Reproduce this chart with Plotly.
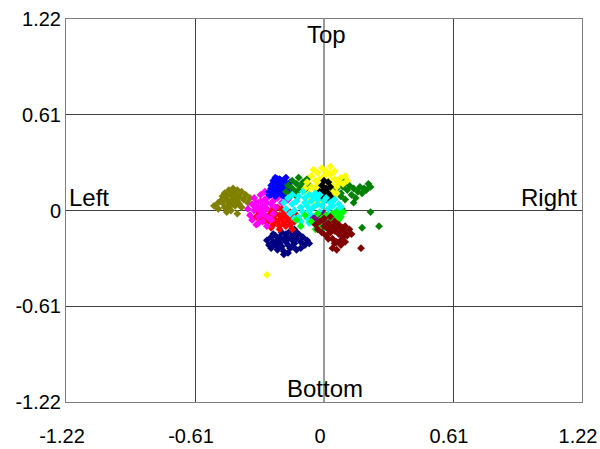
import plotly.graph_objects as go

tick_vals = [-1.22, -0.61, 0, 0.61, 1.22]
tick_text = ["-1.22", "-0.61", "0", "0.61", "1.22"]

olive_x = [-0.52,-0.50,-0.49,-0.48,-0.47,-0.47,-0.46,-0.46,-0.45,-0.45,-0.44,-0.44,-0.44,-0.43,-0.43,-0.42,-0.42,-0.41,-0.41,-0.40,-0.40,-0.39,-0.38,-0.37,-0.36,-0.35,-0.48,-0.45,-0.43,-0.41,-0.39,-0.46,-0.44,-0.42,-0.50]
olive_y = [0.03,0.01,0.06,0.09,0.02,0.11,-0.01,0.07,0.13,0.04,0.10,0.00,0.06,0.14,0.08,0.03,0.11,0.06,-0.02,0.09,0.04,0.12,0.07,0.10,0.05,0.08,0.05,0.02,0.04,0.13,0.02,0.09,0.12,0.08,0.05]

navy_x = [-0.27,-0.26,-0.25,-0.25,-0.24,-0.23,-0.23,-0.22,-0.22,-0.21,-0.21,-0.20,-0.20,-0.19,-0.19,-0.18,-0.18,-0.17,-0.17,-0.16,-0.16,-0.15,-0.15,-0.14,-0.14,-0.13,-0.13,-0.12,-0.11,-0.10,-0.09,-0.08,-0.07,-0.19,-0.17,-0.15,-0.21,-0.13,-0.24,-0.11]
navy_y = [-0.19,-0.22,-0.17,-0.24,-0.20,-0.16,-0.22,-0.19,-0.25,-0.17,-0.21,-0.14,-0.23,-0.18,-0.26,-0.20,-0.15,-0.22,-0.18,-0.13,-0.24,-0.19,-0.16,-0.21,-0.12,-0.18,-0.25,-0.15,-0.20,-0.17,-0.22,-0.19,-0.21,-0.28,-0.27,-0.23,-0.20,-0.14,-0.15,-0.24]

red_x = [-0.32,-0.31,-0.30,-0.29,-0.28,-0.28,-0.27,-0.26,-0.26,-0.25,-0.24,-0.24,-0.23,-0.23,-0.22,-0.22,-0.21,-0.21,-0.20,-0.20,-0.19,-0.19,-0.18,-0.17,-0.16,-0.16,-0.15,-0.14,-0.13,-0.12,-0.25,-0.21,-0.18,-0.27,-0.15]
red_y = [-0.04,-0.01,-0.06,-0.02,-0.05,0.01,-0.08,-0.03,-0.06,0.00,-0.04,-0.09,-0.02,-0.06,0.02,-0.07,-0.03,-0.10,-0.05,0.01,-0.02,-0.08,-0.04,-0.06,-0.01,-0.09,-0.04,-0.07,-0.03,-0.05,-0.11,-0.12,-0.10,-0.07,-0.12]

magenta_x = [-0.36,-0.35,-0.34,-0.34,-0.33,-0.33,-0.32,-0.32,-0.31,-0.31,-0.30,-0.30,-0.30,-0.29,-0.29,-0.28,-0.28,-0.28,-0.27,-0.27,-0.26,-0.26,-0.25,-0.25,-0.24,-0.24,-0.23,-0.23,-0.22,-0.21,-0.20,-0.19,-0.18,-0.17,-0.16,-0.31,-0.29,-0.27,-0.25,-0.33]
magenta_y = [0.01,-0.03,0.04,-0.06,0.08,0.00,-0.09,0.05,0.02,-0.04,0.10,-0.01,0.06,-0.07,0.03,0.12,-0.03,0.07,0.01,-0.10,0.09,-0.05,0.04,0.11,-0.02,0.06,0.13,0.02,0.08,0.11,0.05,0.10,0.12,0.07,0.09,-0.08,0.00,0.05,-0.06,0.03]

blue_x = [-0.26,-0.25,-0.25,-0.24,-0.24,-0.23,-0.23,-0.22,-0.22,-0.21,-0.21,-0.20,-0.20,-0.19,-0.19,-0.18,-0.18,-0.17,-0.17,-0.16,-0.25,-0.23,-0.21,-0.19,-0.24,-0.22,-0.20,-0.18,-0.26,-0.22]
blue_y = [0.12,0.16,0.10,0.19,0.13,0.21,0.09,0.15,0.18,0.12,0.20,0.16,0.10,0.19,0.14,0.21,0.11,0.17,0.13,0.18,0.14,0.11,0.15,0.09,0.17,0.13,0.19,0.15,0.10,0.20]

green_x = [-0.18,-0.17,-0.16,-0.15,-0.15,-0.14,-0.13,-0.13,-0.12,-0.11,-0.10,-0.09,-0.08,-0.07,-0.12,
           0.00,0.02,0.03,0.05,0.06,0.07,0.08,0.09,0.10,0.11,0.12,0.13,0.14,0.15,0.16,0.17,0.18,0.19,0.20,0.21,0.22,0.04,0.10,0.14,0.08,
           0.085,0.22,0.18,0.26]
green_y = [0.12,0.16,0.10,0.14,0.19,0.12,0.17,0.09,0.21,0.15,0.18,0.13,0.20,0.16,0.13,
           0.15,0.12,0.17,0.10,0.14,0.18,0.11,0.15,0.07,0.13,0.16,0.10,0.14,0.08,0.12,0.15,0.11,0.14,0.13,0.17,0.15,0.06,0.19,0.05,0.09,
           0.01,-0.01,-0.11,-0.10]

yellow_x = [-0.09,-0.08,-0.07,-0.06,-0.06,-0.05,-0.05,-0.04,-0.04,-0.03,-0.03,-0.02,-0.02,-0.01,-0.01,0.00,0.00,0.01,0.01,0.02,0.02,0.03,0.03,0.04,0.04,0.05,0.05,0.06,0.07,0.08,0.09,0.10,0.11,-0.05,-0.02,0.01,0.04,-0.07,0.06,0.03,-0.27]
yellow_y = [0.14,0.18,0.11,0.22,0.15,0.26,0.09,0.19,0.13,0.24,0.16,0.08,0.20,0.27,0.12,0.17,0.22,0.10,0.25,0.14,0.19,0.07,0.23,0.16,0.12,0.20,0.25,0.15,0.18,0.21,0.17,0.22,0.19,0.06,0.05,0.13,0.09,0.06,0.11,0.28,-0.41]

black_x = [-0.02,-0.01,0.00,0.00,0.01,0.02,0.03,0.01,-0.01,0.02,0.03,0.00]
black_y = [0.12,0.16,0.10,0.19,0.14,0.11,0.15,0.07,0.08,0.18,0.09,0.13]

cyan_x = [-0.19,-0.18,-0.17,-0.16,-0.15,-0.15,-0.14,-0.13,-0.12,-0.12,-0.11,-0.10,-0.10,-0.09,-0.09,-0.08,-0.08,-0.07,-0.07,-0.06,-0.06,-0.05,-0.05,-0.04,-0.04,-0.03,-0.03,-0.02,-0.02,-0.01,0.00,0.00,0.01,0.02,0.03,0.04,0.05,0.06,0.07,0.08,-0.11,-0.07,-0.03,0.02,-0.14]
cyan_y = [0.05,0.01,0.08,-0.02,0.04,0.10,0.00,0.06,-0.04,0.09,0.02,0.12,-0.01,0.05,0.08,-0.05,0.03,0.10,0.00,0.06,-0.03,0.09,0.02,0.11,-0.06,0.04,0.07,-0.01,0.10,0.03,0.06,-0.04,0.08,0.01,0.05,0.03,0.07,0.00,0.04,0.02,-0.07,-0.08,-0.02,-0.03,-0.05]

purple_x = [-0.05,-0.04,-0.03,-0.03,-0.02,-0.01,-0.01,0.00,0.01,0.02,-0.04,0.00]
purple_y = [-0.05,-0.08,-0.03,-0.10,-0.06,-0.04,-0.09,-0.02,-0.07,-0.05,-0.06,-0.11]

lime_x = [-0.13,-0.11,-0.09,-0.06,-0.04,-0.02,-0.01,0.00,0.01,0.02,0.03,0.04,0.05,0.06,0.07,0.08,0.09,0.05,0.07,-0.03,0.03,0.08]
lime_y = [-0.06,-0.10,-0.03,-0.07,-0.12,-0.09,-0.05,-0.11,-0.03,-0.08,-0.06,-0.02,-0.05,-0.01,-0.04,-0.02,-0.01,-0.09,-0.06,-0.02,-0.12,-0.04]

maroon_x = [-0.04,-0.03,-0.02,-0.01,0.00,0.00,0.01,0.02,0.02,0.03,0.03,0.04,0.04,0.05,0.05,0.06,0.06,0.07,0.07,0.08,0.08,0.09,0.09,0.10,0.10,0.11,0.12,0.13,0.04,0.06,0.08,0.02,0.05,0.10,0.175]
maroon_y = [-0.09,-0.12,-0.07,-0.14,-0.10,-0.05,-0.16,-0.08,-0.12,-0.14,-0.04,-0.10,-0.18,-0.07,-0.13,-0.11,-0.20,-0.15,-0.09,-0.13,-0.22,-0.11,-0.17,-0.14,-0.10,-0.16,-0.12,-0.15,-0.24,-0.25,-0.19,-0.18,-0.21,-0.20,-0.24]

series = [
    ("olive", olive_x, olive_y, "#808000"),
    ("navy", navy_x, navy_y, "#000080"),
    ("red", red_x, red_y, "#FF0000"),
    ("magenta", magenta_x, magenta_y, "#FF00FF"),
    ("blue", blue_x, blue_y, "#0000FF"),
    ("green", green_x, green_y, "#008000"),
    ("yellow", yellow_x, yellow_y, "#FFFF00"),
    ("black", black_x, black_y, "#000000"),
    ("cyan", cyan_x, cyan_y, "#00FFFF"),
    ("purple", purple_x, purple_y, "#800080"),
    ("lime", lime_x, lime_y, "#00FF00"),
    ("maroon", maroon_x, maroon_y, "#800000"),
]

fig = go.Figure()
for name, xs, ys, col in series:
    fig.add_trace(go.Scatter(x=xs, y=ys, mode="markers", name=name,
                             marker=dict(symbol="diamond", size=6, color=col, line=dict(width=0))))

font = dict(family="Arial, Liberation Sans, sans-serif", size=20, color="black")
afont = dict(family="Arial, Liberation Sans, sans-serif", size=24, color="black")

fig.update_layout(
    width=600, height=449,
    margin=dict(l=66, r=18, t=19, b=47, autoexpand=False),
    paper_bgcolor="white", plot_bgcolor="white",
    showlegend=False,
    font=font,
    xaxis=dict(range=[-1.22, 1.22], tickvals=tick_vals, ticktext=tick_text,
               showgrid=True, gridcolor="#404040", gridwidth=1,
               zeroline=True, zerolinecolor="#9a9a9a", zerolinewidth=1.5,
               showline=True, linecolor="#808080", linewidth=1, mirror=True,
               ticks="", tickfont=font, ticklabelstandoff=16, ticklabelshift=-4,
               ticklabeloverflow="allow", automargin=False, fixedrange=True),
    yaxis=dict(range=[-1.22, 1.22], tickvals=tick_vals, ticktext=tick_text,
               showgrid=True, gridcolor="#404040", gridwidth=1,
               zeroline=True, zerolinecolor="#404040", zerolinewidth=1,
               showline=True, linecolor="#808080", linewidth=1, mirror=True,
               ticks="", tickfont=font, ticklabelstandoff=0,
               ticklabeloverflow="allow", automargin=False, fixedrange=True),
    annotations=[
        dict(text="Top", x=0.012, y=1.12, xref="x", yref="y", showarrow=False,
             xanchor="center", yanchor="middle", font=afont),
        dict(text="Bottom", x=0.006, y=-1.135, xref="x", yref="y", showarrow=False,
             xanchor="center", yanchor="middle", font=afont),
        dict(text="Left", x=-1.205, y=0.085, xref="x", yref="y", showarrow=False,
             xanchor="left", yanchor="middle", font=afont, xshift=-2),
        dict(text="Right", x=1.196, y=0.085, xref="x", yref="y", showarrow=False,
             xanchor="right", yanchor="middle", font=afont, xshift=2),
    ],
)

fig.write_html("out.html")
